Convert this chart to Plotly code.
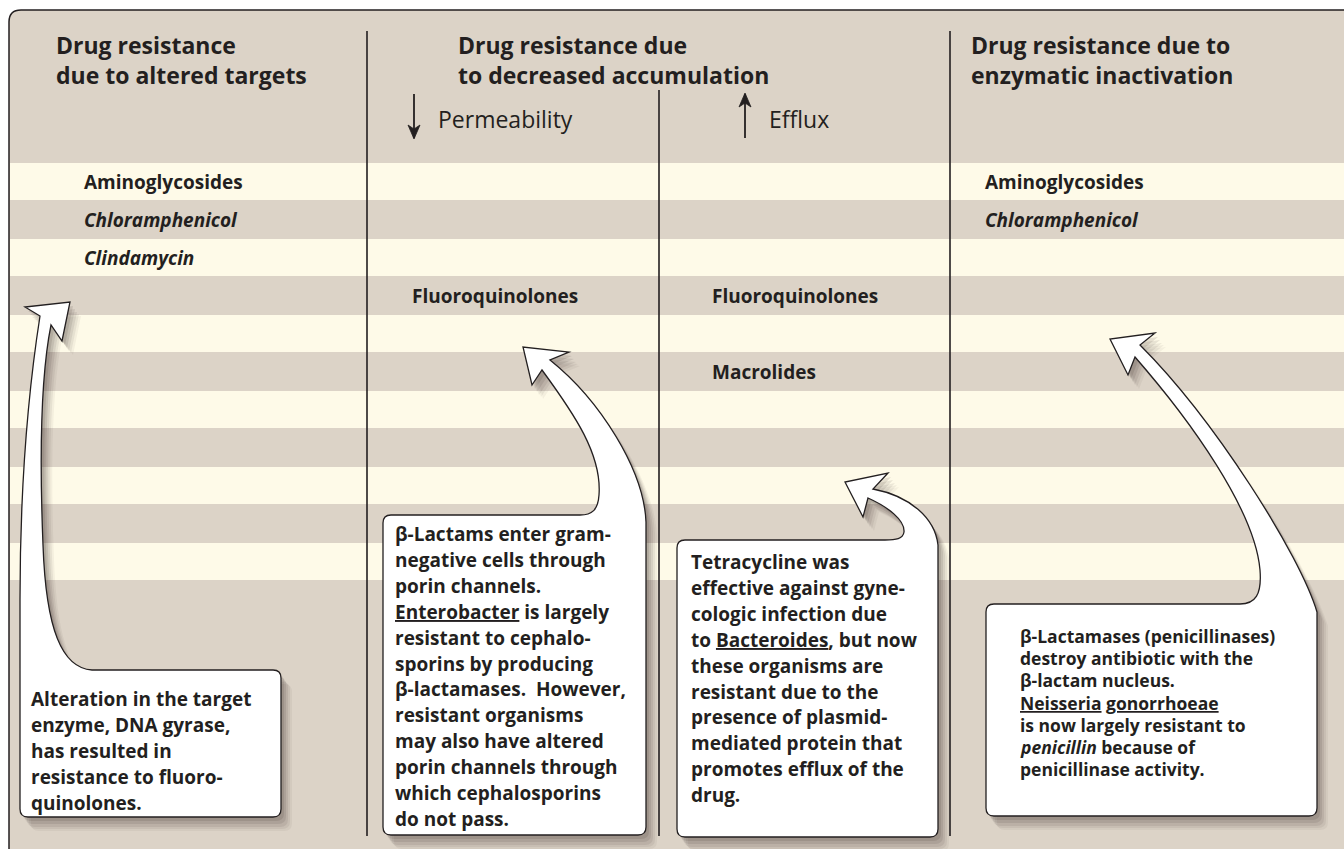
import plotly.graph_objects as go

W, H = 1344, 849
TAN = "#dcd3c7"
CREAM = "#fefae8"
INK = "#231f20"
FONT = "Open Sans"

# ---------------- data (text content) ----------------
column_titles = [
    ["Drug resistance", "due to altered targets"],
    ["Drug resistance due", "to decreased accumulation"],
    ["Drug resistance due to", "enzymatic inactivation"],
]
sub_headers = ["Permeability", "Efflux"]
sub_directions = ["down", "up"]

# (label, column-slot, row index, italic)
drug_labels = [
    ("Aminoglycosides", 0, 0, False),
    ("Chloramphenicol", 0, 1, True),
    ("Clindamycin", 0, 2, True),
    ("Fluoroquinolones", 1, 3, False),
    ("Fluoroquinolones", 2, 3, False),
    ("Macrolides", 2, 5, False),
    ("Aminoglycosides", 3, 0, False),
    ("Chloramphenicol", 3, 1, True),
]

box1_lines = ["Alteration in the target", "enzyme, DNA gyrase,", "has resulted in",
              "resistance to fluoro-", "quinolones."]
box2_lines = ["β-Lactams enter gram-", "negative cells through", "porin channels.",
              "<u>Enterobacter</u> is largely", "resistant to cephalo-", "sporins by producing",
              "β-lactamases.  However,", "resistant organisms", "may also have altered",
              "porin channels through", "which cephalosporins", "do not pass."]
box3_lines = ["Tetracycline was", "effective against gyne-", "cologic infection due",
              "to <u>Bacteroides</u>, but now", "these organisms are", "resistant due to the",
              "presence of plasmid-", "mediated protein that", "promotes efflux of the", "drug."]
box4_lines = ["β-Lactamases (penicillinases)", "destroy antibiotic with the", "β-lactam nucleus.",
              "<u>Neisseria</u> <u>gonorrhoeae</u>", "is now largely resistant to",
              "<i>penicillin</i> because of", "penicillinase activity."]

# ---------------- layout geometry ----------------
band_edges = [163, 200, 239, 276, 315, 352, 391, 428, 467, 504, 543, 580]
bands = [(band_edges[i], band_edges[i + 1]) for i in range(len(band_edges) - 1)]
slot_x = [82, 410, 710, 983]
title_x = [54, 456, 969]


def to_svg(segs, dx=0, dy=0):
    out = []
    for cmd, pts in segs:
        s = cmd
        for (x, y) in pts:
            s += " %.1f,%.1f" % (x + dx, y + dy)
        out.append(s)
    return " ".join(out)


shapes = []
annotations = []

# outer frame
frame = [("M", [(1360, 10)]), ("L", [(21, 10)]), ("Q", [(9, 10), (9, 22)]),
         ("L", [(9, 870)]), ("L", [(1360, 870)]), ("Z", [])]
shapes.append(dict(type="path", path=to_svg(frame), fillcolor=TAN,
                   line=dict(color=INK, width=1.5), xref="x", yref="y"))

# cream stripes
for i, (t, b) in enumerate(bands):
    if i % 2 == 0:
        shapes.append(dict(type="rect", x0=10, x1=1360, y0=t, y1=b, fillcolor=CREAM,
                           line=dict(width=0), xref="x", yref="y"))

# dividers
for (x, y0, y1) in [(367, 31, 836), (659, 90, 836), (950, 31, 836)]:
    shapes.append(dict(type="line", x0=x, x1=x, y0=y0, y1=y1,
                       line=dict(color=INK, width=1.6), xref="x", yref="y"))

# sub-header arrows
arrow_x = [414, 745]
for ax, d in zip(arrow_x, sub_directions):
    shapes.append(dict(type="line", x0=ax, x1=ax, y0=94, y1=138,
                       line=dict(color=INK, width=1.8), xref="x", yref="y"))
    if d == "down":
        tri = [("M", [(ax - 6, 125)]), ("L", [(ax, 139)]), ("L", [(ax + 6, 125)]),
               ("L", [(ax, 129)]), ("Z", [])]
    else:
        tri = [("M", [(ax - 6, 107)]), ("L", [(ax, 93)]), ("L", [(ax + 6, 107)]),
               ("L", [(ax, 103)]), ("Z", [])]
    shapes.append(dict(type="path", path=to_svg(tri), fillcolor=INK,
                       line=dict(color=INK, width=0.8), xref="x", yref="y"))

# callout outlines
box1 = [("M", [(28, 817)]), ("L", [(273, 817)]), ("Q", [(281, 817), (281, 809)]),
        ("L", [(281, 678)]), ("Q", [(281, 670), (273, 670)]), ("L", [(92, 670)]),
        ("C", [(62, 668), (46, 630), (43, 545)]), ("C", [(40, 470), (40, 380), (51, 325)]),
        ("L", [(62, 341)]), ("L", [(70, 302)]), ("L", [(25, 307)]), ("L", [(40, 316)]),
        ("C", [(30, 380), (20, 480), (20, 600)]), ("L", [(20, 809)]),
        ("Q", [(20, 817), (28, 817)]), ("Z", [])]
box2 = [("M", [(391, 835)]), ("L", [(638, 835)]), ("Q", [(646, 835), (646, 827)]),
        ("L", [(646, 522)]), ("C", [(644, 470), (600, 400), (550, 360)]),
        ("L", [(569, 352)]), ("L", [(523, 347)]), ("L", [(532, 385)]), ("L", [(542, 370)]),
        ("C", [(575, 415), (602, 455), (599, 495)]), ("C", [(598, 510), (592, 515), (580, 515)]),
        ("L", [(391, 515)]), ("Q", [(383, 515), (383, 523)]), ("L", [(383, 827)]),
        ("Q", [(383, 835), (391, 835)]), ("Z", [])]
box3 = [("M", [(685, 837)]), ("L", [(930, 837)]), ("Q", [(938, 837), (938, 829)]),
        ("L", [(938, 545)]), ("C", [(935, 518), (910, 496), (873, 489)]),
        ("L", [(888, 473)]), ("L", [(845, 482)]), ("L", [(863, 517)]), ("L", [(868, 498)]),
        ("C", [(888, 507), (905, 520), (904, 532)]), ("C", [(903, 539), (896, 540), (885, 540)]),
        ("L", [(685, 540)]), ("Q", [(677, 540), (677, 548)]), ("L", [(677, 829)]),
        ("Q", [(677, 837), (685, 837)]), ("Z", [])]
box4 = [("M", [(994, 816)]), ("L", [(1309, 816)]), ("Q", [(1317, 816), (1317, 808)]),
        ("L", [(1317, 612)]), ("C", [(1300, 555), (1215, 420), (1140, 345)]),
        ("L", [(1155, 333)]), ("L", [(1110, 339)]), ("L", [(1128, 375)]), ("L", [(1135, 357)]),
        ("C", [(1190, 420), (1255, 510), (1260, 570)]), ("C", [(1262, 595), (1255, 604), (1240, 604)]),
        ("L", [(994, 604)]), ("Q", [(986, 604), (986, 612)]), ("L", [(986, 808)]),
        ("Q", [(986, 816), (994, 816)]), ("Z", [])]

for segs in [box1, box2, box3, box4]:
    for (dx, dy, op) in [(11, 14, 0.05), (9, 12, 0.07), (7, 10, 0.09), (5, 7, 0.11), (3, 4, 0.13)]:
        shapes.append(dict(type="path", path=to_svg(segs, dx, dy), fillcolor="#3a3029",
                           opacity=op, line=dict(width=0), xref="x", yref="y"))
    shapes.append(dict(type="path", path=to_svg(segs), fillcolor="white",
                       line=dict(color=INK, width=1.3), xref="x", yref="y"))


def add_text(txt, x, y, size, bold=True, italic=False):
    t = txt
    if italic:
        t = "<i>" + t + "</i>"
    annotations.append(dict(text=t, x=x, y=y, xref="x", yref="y", xanchor="left",
                            yanchor="middle", align="left", showarrow=False,
                            font=dict(family=FONT, size=size, color=INK,
                                      weight="bold" if bold else "normal")))


# titles (two lines in one text block)
for ci, lines in enumerate(column_titles):
    add_text("<br>".join(lines), title_x[ci], 60, 23)

# sub headers
for label, ax in zip(sub_headers, arrow_x):
    add_text(label, ax + 22, 119, 23, bold=False)

# drug labels
for label, slot, row, ital in drug_labels:
    t, b = bands[row]
    add_text(label, slot_x[slot], (t + b) / 2, 19, italic=ital)

# callout texts
for lines, x, y0, dy, size in [(box1_lines, 29, 699, 26, 19),
                                (box2_lines, 393, 534, 25.9, 19),
                                (box3_lines, 689, 562, 25.9, 19),
                                (box4_lines, 1018, 636, 22.2, 17.5)]:
    for i, line in enumerate(lines):
        add_text(line, x, y0 + i * dy, size)

fig = go.Figure()
fig.update_layout(
    width=W, height=H, margin=dict(l=0, r=0, t=0, b=0),
    paper_bgcolor="white", plot_bgcolor="white",
    xaxis=dict(range=[0, W], visible=False, fixedrange=True),
    yaxis=dict(range=[H, 0], visible=False, fixedrange=True),
    shapes=shapes, annotations=annotations, showlegend=False,
)
fig.write_html("out.html", config={"displayModeBar": False},
               post_script="document.body.style.margin='0';")
